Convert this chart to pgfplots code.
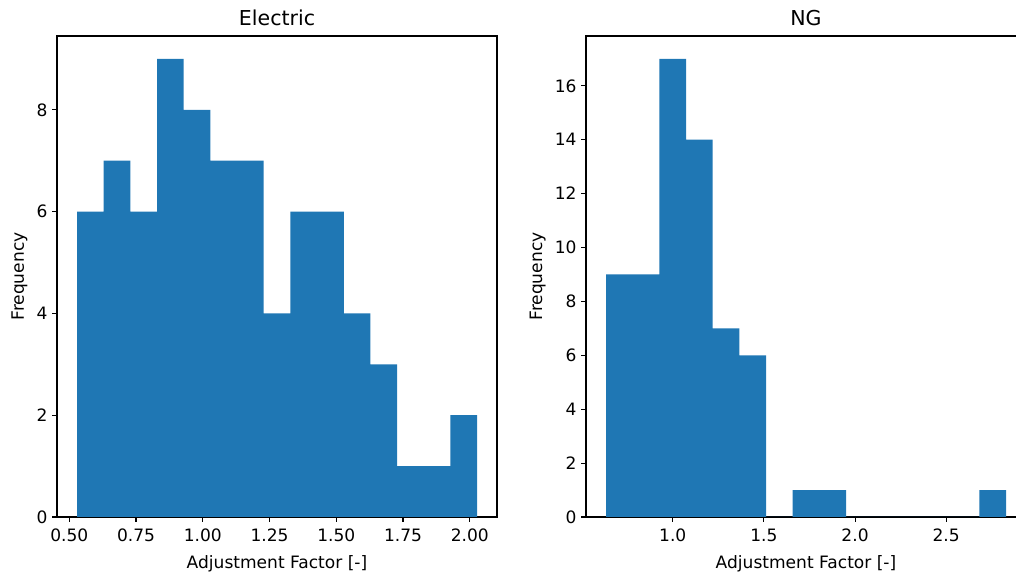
\documentclass[border=0pt]{standalone}
\usepackage{pgfplots}
\pgfplotsset{compat=1.18}
\usepackage{fontspec}
\setmainfont{DejaVu Sans}
\definecolor{mplblue}{RGB}{31,119,180}

\pgfplotsset{
  histax/.style={
    scale only axis,
    width=330pt, height=360.75pt,
    /pgf/number format/assume math mode=true,
    tick label style={font=\fontsize{12.8}{15}\selectfont},
    xticklabel style={yshift=-2pt},
    label style={font=\fontsize{12.8}{15}\selectfont},
    xlabel style={yshift=-3pt},
    title style={font=\fontsize{15.4}{18}\selectfont, yshift=-1.75pt},
    axis line style={line width=0.8pt},
    tick align=outside,
    tick pos=left,
    major tick length=3.6pt,
    tick style={black, line width=0.8pt},
    ymin=0,
    ylabel={Frequency},
    xlabel={Adjustment Factor [-]},
  }
}

\begin{document}
\begin{tikzpicture}

%% Electric
\begin{axis}[
  histax,
  at={(42.75pt,42.75pt)}, anchor=south west,
  title={Electric},
  xmin=0.454, xmax=2.102,
  ymax=9.45,
  xtick={0.5,0.75,1,1.25,1.5,1.75,2},
  xticklabel style={/pgf/number format/.cd, fixed, fixed zerofill, precision=2},
  ytick={0,2,4,6,8},
]
\addplot[ybar interval, fill=mplblue, draw=none] coordinates {
  (0.5290,6) (0.6289,7) (0.7288,6) (0.8287,9) (0.9286,8)
  (1.0285,7) (1.1284,7) (1.2283,4) (1.3282,6) (1.4281,6)
  (1.5280,4) (1.6279,3) (1.7278,1) (1.8277,1) (1.9276,2)
  (2.0275,2)
};
\end{axis}

%% NG
\begin{axis}[
  histax,
  at={(439.5pt,42.75pt)}, anchor=south west,
  title={NG},
  xmin=0.524, xmax=2.938,
  ymax=17.85,
  xtick={1,1.5,2,2.5},
  xticklabel style={/pgf/number format/.cd, fixed, fixed zerofill, precision=1},
  ytick={0,2,4,6,8,10,12,14,16},
]
\addplot[ybar interval, fill=mplblue, draw=none] coordinates {
  (0.6340,9) (0.7803,9) (0.9266,17) (1.0729,14) (1.2192,7)
  (1.3655,6) (1.5118,0) (1.6581,1) (1.8044,1) (1.9507,0)
  (2.0970,0) (2.2433,0) (2.3896,0) (2.5359,0) (2.6822,1)
  (2.8285,1)
};
\end{axis}

\pgfresetboundingbox
\useasboundingbox (0,0) rectangle (762pt,430.5pt);
\end{tikzpicture}
\end{document}
